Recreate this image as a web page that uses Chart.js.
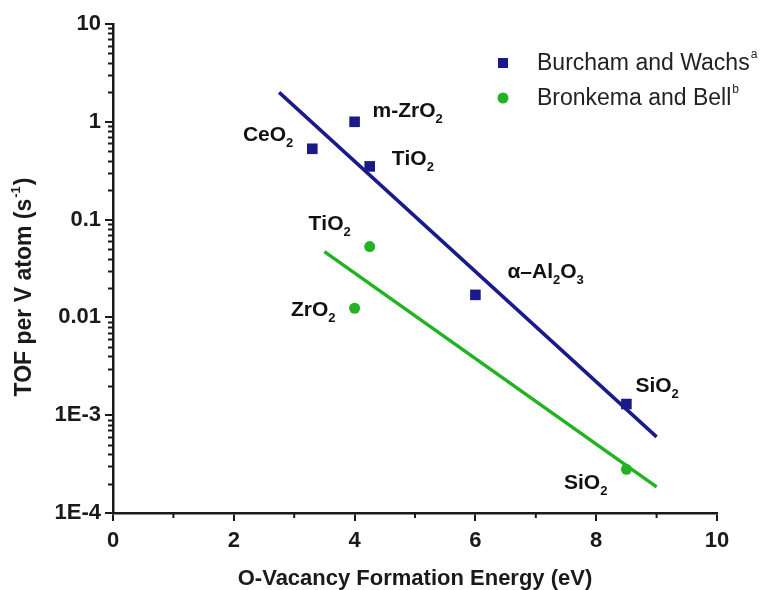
<!DOCTYPE html>
<html>
<head>
<meta charset="utf-8">
<script src="https://cdn.jsdelivr.net/npm/chart.js@4.4.0/dist/chart.umd.min.js"></script>
<style>
  html, body { margin: 0; padding: 0; background: #fff; }
  #wrap { width: 762px; height: 590px; }
</style>
</head>
<body>
<div id="wrap"><canvas id="chart" width="762" height="590"></canvas></div>
<script>
// Burcham and Wachs (squares)
const burchamX = [3.3, 4.0, 4.25, 6.0, 8.5];
const burchamY = [0.53, 1.0, 0.35, 0.017, 0.0013];
const burchamNames = ["CeO2", "m-ZrO2", "TiO2", "α–Al2O3", "SiO2"];

// Bronkema and Bell (circles)
const bronkemaX = [4.25, 4.0, 8.5];
const bronkemaY = [0.053, 0.0124, 0.00028];
const bronkemaNames = ["TiO2", "ZrO2", "SiO2"];

// fitted lines, end points
const burchamFitX = [2.75, 9.0];
const burchamFitY = [2.0, 0.0006];
const bronkemaFitX = [3.5, 9.0];
const bronkemaFitY = [0.047, 0.000185];

const legendLabels = ["Burcham and Wachs", "Bronkema and Bell"];
const legendSup = ["a", "b"];
const yTickValues = [0.0001, 0.001, 0.01, 0.1, 1, 10];
const yTickLabels = ["1E-4", "1E-3", "0.01", "0.1", "1", "10"];

// label placement next to each point: [dx, dy, align]
const burchamLabelPos = [[-19, -8, "right"], [18, -5, "left"], [22, -1, "left"], [32, -17, "left"], [9, -12, "left"]];
const bronkemaLabelPos = [[-19, -17, "right"], [-19, 8, "right"], [-19, 20, "right"]];

const BLUE = "#1a1a8a";
const GREEN = "#22b322";
const AXIS = "#1a1a1a";
const FONT = "'Liberation Sans', Arial, sans-serif";

function toPoints(xs, ys) {
  return xs.map((x, i) => ({ x: x, y: ys[i] }));
}

// text with digits drawn as subscripts (chemical formulas)
function chemWidth(ctx, text, size) {
  let w = 0;
  for (const ch of text) {
    ctx.font = /[0-9]/.test(ch) ? `bold ${Math.round(size * 0.62)}px ${FONT}` : `bold ${size}px ${FONT}`;
    w += ctx.measureText(ch).width;
  }
  return w;
}

function drawChem(ctx, text, x, y, align, size) {
  let cx = align === "right" ? x - chemWidth(ctx, text, size) : x;
  ctx.textAlign = "left";
  ctx.textBaseline = "alphabetic";
  for (const ch of text) {
    const sub = /[0-9]/.test(ch);
    ctx.font = sub ? `bold ${Math.round(size * 0.62)}px ${FONT}` : `bold ${size}px ${FONT}`;
    ctx.fillText(ch, cx, sub ? y + 6 : y);
    cx += ctx.measureText(ch).width;
  }
}

const decorations = {
  id: "decorations",
  afterDraw(chart) {
    const ctx = chart.ctx;
    const xs = chart.scales.x;
    const ys = chart.scales.y;
    const area = chart.chartArea;
    ctx.save();

    // minor ticks
    ctx.strokeStyle = AXIS;
    ctx.lineWidth = 2;
    ctx.beginPath();
    for (let v = 1; v < 10; v += 2) {
      const px = xs.getPixelForValue(v);
      ctx.moveTo(px, area.bottom);
      ctx.lineTo(px, area.bottom + 5);
    }
    for (let d = 0.0001; d < 9; d *= 10) {
      for (let m = 2; m <= 9; m++) {
        const py = Math.round(ys.getPixelForValue(m * d)) + 0.5;
        ctx.moveTo(area.left, py);
        ctx.lineTo(area.left - 5, py);
      }
    }
    ctx.stroke();

    // point labels
    ctx.fillStyle = "#111";
    burchamNames.forEach((name, i) => {
      const p = burchamLabelPos[i];
      drawChem(ctx, name, xs.getPixelForValue(burchamX[i]) + p[0], ys.getPixelForValue(burchamY[i]) + p[1], p[2], 21);
    });
    bronkemaNames.forEach((name, i) => {
      const p = bronkemaLabelPos[i];
      drawChem(ctx, name, xs.getPixelForValue(bronkemaX[i]) + p[0], ys.getPixelForValue(bronkemaY[i]) + p[1], p[2], 21);
    });

    // legend
    const colors = [BLUE, GREEN];
    legendLabels.forEach((label, i) => {
      const ly = 63 + i * 35;
      ctx.fillStyle = colors[i];
      if (i === 0) {
        ctx.fillRect(498, ly - 5, 10, 10);
      } else {
        ctx.beginPath();
        ctx.arc(503, ly, 5.5, 0, Math.PI * 2);
        ctx.fill();
      }
      ctx.fillStyle = "#222";
      ctx.textAlign = "left";
      ctx.textBaseline = "middle";
      ctx.font = `23px ${FONT}`;
      ctx.fillText(label, 537, ly + 1);
      const w = ctx.measureText(label).width;
      ctx.font = `12px ${FONT}`;
      ctx.fillText(legendSup[i], 537 + w + 1, ly - 8);
    });

    // y axis title with superscript
    ctx.translate(25, 288);
    ctx.rotate(-Math.PI / 2);
    ctx.fillStyle = "#1a1a1a";
    ctx.textBaseline = "middle";
    const partA = "TOF per V atom (s";
    const sup = "-1";
    const partB = ")";
    ctx.font = `bold 23px ${FONT}`;
    const wa = ctx.measureText(partA).width;
    const wb = ctx.measureText(partB).width;
    ctx.font = `bold 13px ${FONT}`;
    const ws = ctx.measureText(sup).width;
    let tx = -(wa + ws + wb) / 2;
    ctx.textAlign = "left";
    ctx.font = `bold 23px ${FONT}`;
    ctx.fillText(partA, tx, 0);
    tx += wa;
    ctx.font = `bold 13px ${FONT}`;
    ctx.fillText(sup, tx + 1, -9);
    tx += ws + 2;
    ctx.font = `bold 23px ${FONT}`;
    ctx.fillText(partB, tx, 0);

    ctx.restore();
  }
};

new Chart(document.getElementById("chart"), {
  type: "scatter",
  data: {
    datasets: [
      {
        label: legendLabels[0],
        data: toPoints(burchamX, burchamY),
        pointStyle: "rect",
        pointRadius: 7.5,
        backgroundColor: BLUE,
        borderWidth: 0
      },
      {
        label: legendLabels[1],
        data: toPoints(bronkemaX, bronkemaY),
        pointStyle: "circle",
        pointRadius: 5.5,
        backgroundColor: GREEN,
        borderWidth: 0
      },
      {
        type: "line",
        label: "fit a",
        data: toPoints(burchamFitX, burchamFitY),
        borderColor: BLUE,
        borderWidth: 3.5,
        pointRadius: 0,
        fill: false
      },
      {
        type: "line",
        label: "fit b",
        data: toPoints(bronkemaFitX, bronkemaFitY),
        borderColor: GREEN,
        borderWidth: 3.5,
        pointRadius: 0,
        fill: false
      }
    ]
  },
  options: {
    responsive: false,
    animation: false,
    layout: { padding: { top: 24, right: 45, left: 0, bottom: 0 } },
    plugins: {
      legend: { display: false },
      tooltip: { enabled: false }
    },
    scales: {
      x: {
        type: "linear",
        min: 0,
        max: 10,
        afterFit(scale) { scale.height = 77; },
        ticks: {
          stepSize: 2,
          color: "#1a1a1a",
          padding: 7,
          font: { family: FONT, size: 22, weight: "bold" }
        },
        grid: { drawOnChartArea: false, drawTicks: true, tickLength: 8, color: AXIS, lineWidth: 2 },
        border: { display: true, color: AXIS, width: 2.5 },
        title: {
          display: true,
          text: "O-Vacancy Formation Energy (eV)",
          color: "#1a1a1a",
          padding: { top: 0, bottom: 0 },
          font: { family: FONT, size: 22, weight: "bold", lineHeight: 1 }
        }
      },
      y: {
        type: "logarithmic",
        min: 0.0001,
        max: 10,
        afterFit(scale) { scale.width = 113; },
        afterBuildTicks(scale) {
          scale.ticks = yTickValues.map(v => ({ value: v, major: true }));
        },
        ticks: {
          autoSkip: false,
          color: "#1a1a1a",
          padding: 4,
          font: { family: FONT, size: 22, weight: "bold" },
          callback: (v) => {
            const i = yTickValues.findIndex(t => Math.abs(Math.log10(t) - Math.log10(v)) < 1e-6);
            return i >= 0 ? yTickLabels[i] : "";
          }
        },
        grid: { drawOnChartArea: false, drawTicks: true, tickLength: 8, color: AXIS, lineWidth: 2 },
        border: { display: true, color: AXIS, width: 2.5 }
      }
    }
  },
  plugins: [decorations]
});
</script>
</body>
</html>
